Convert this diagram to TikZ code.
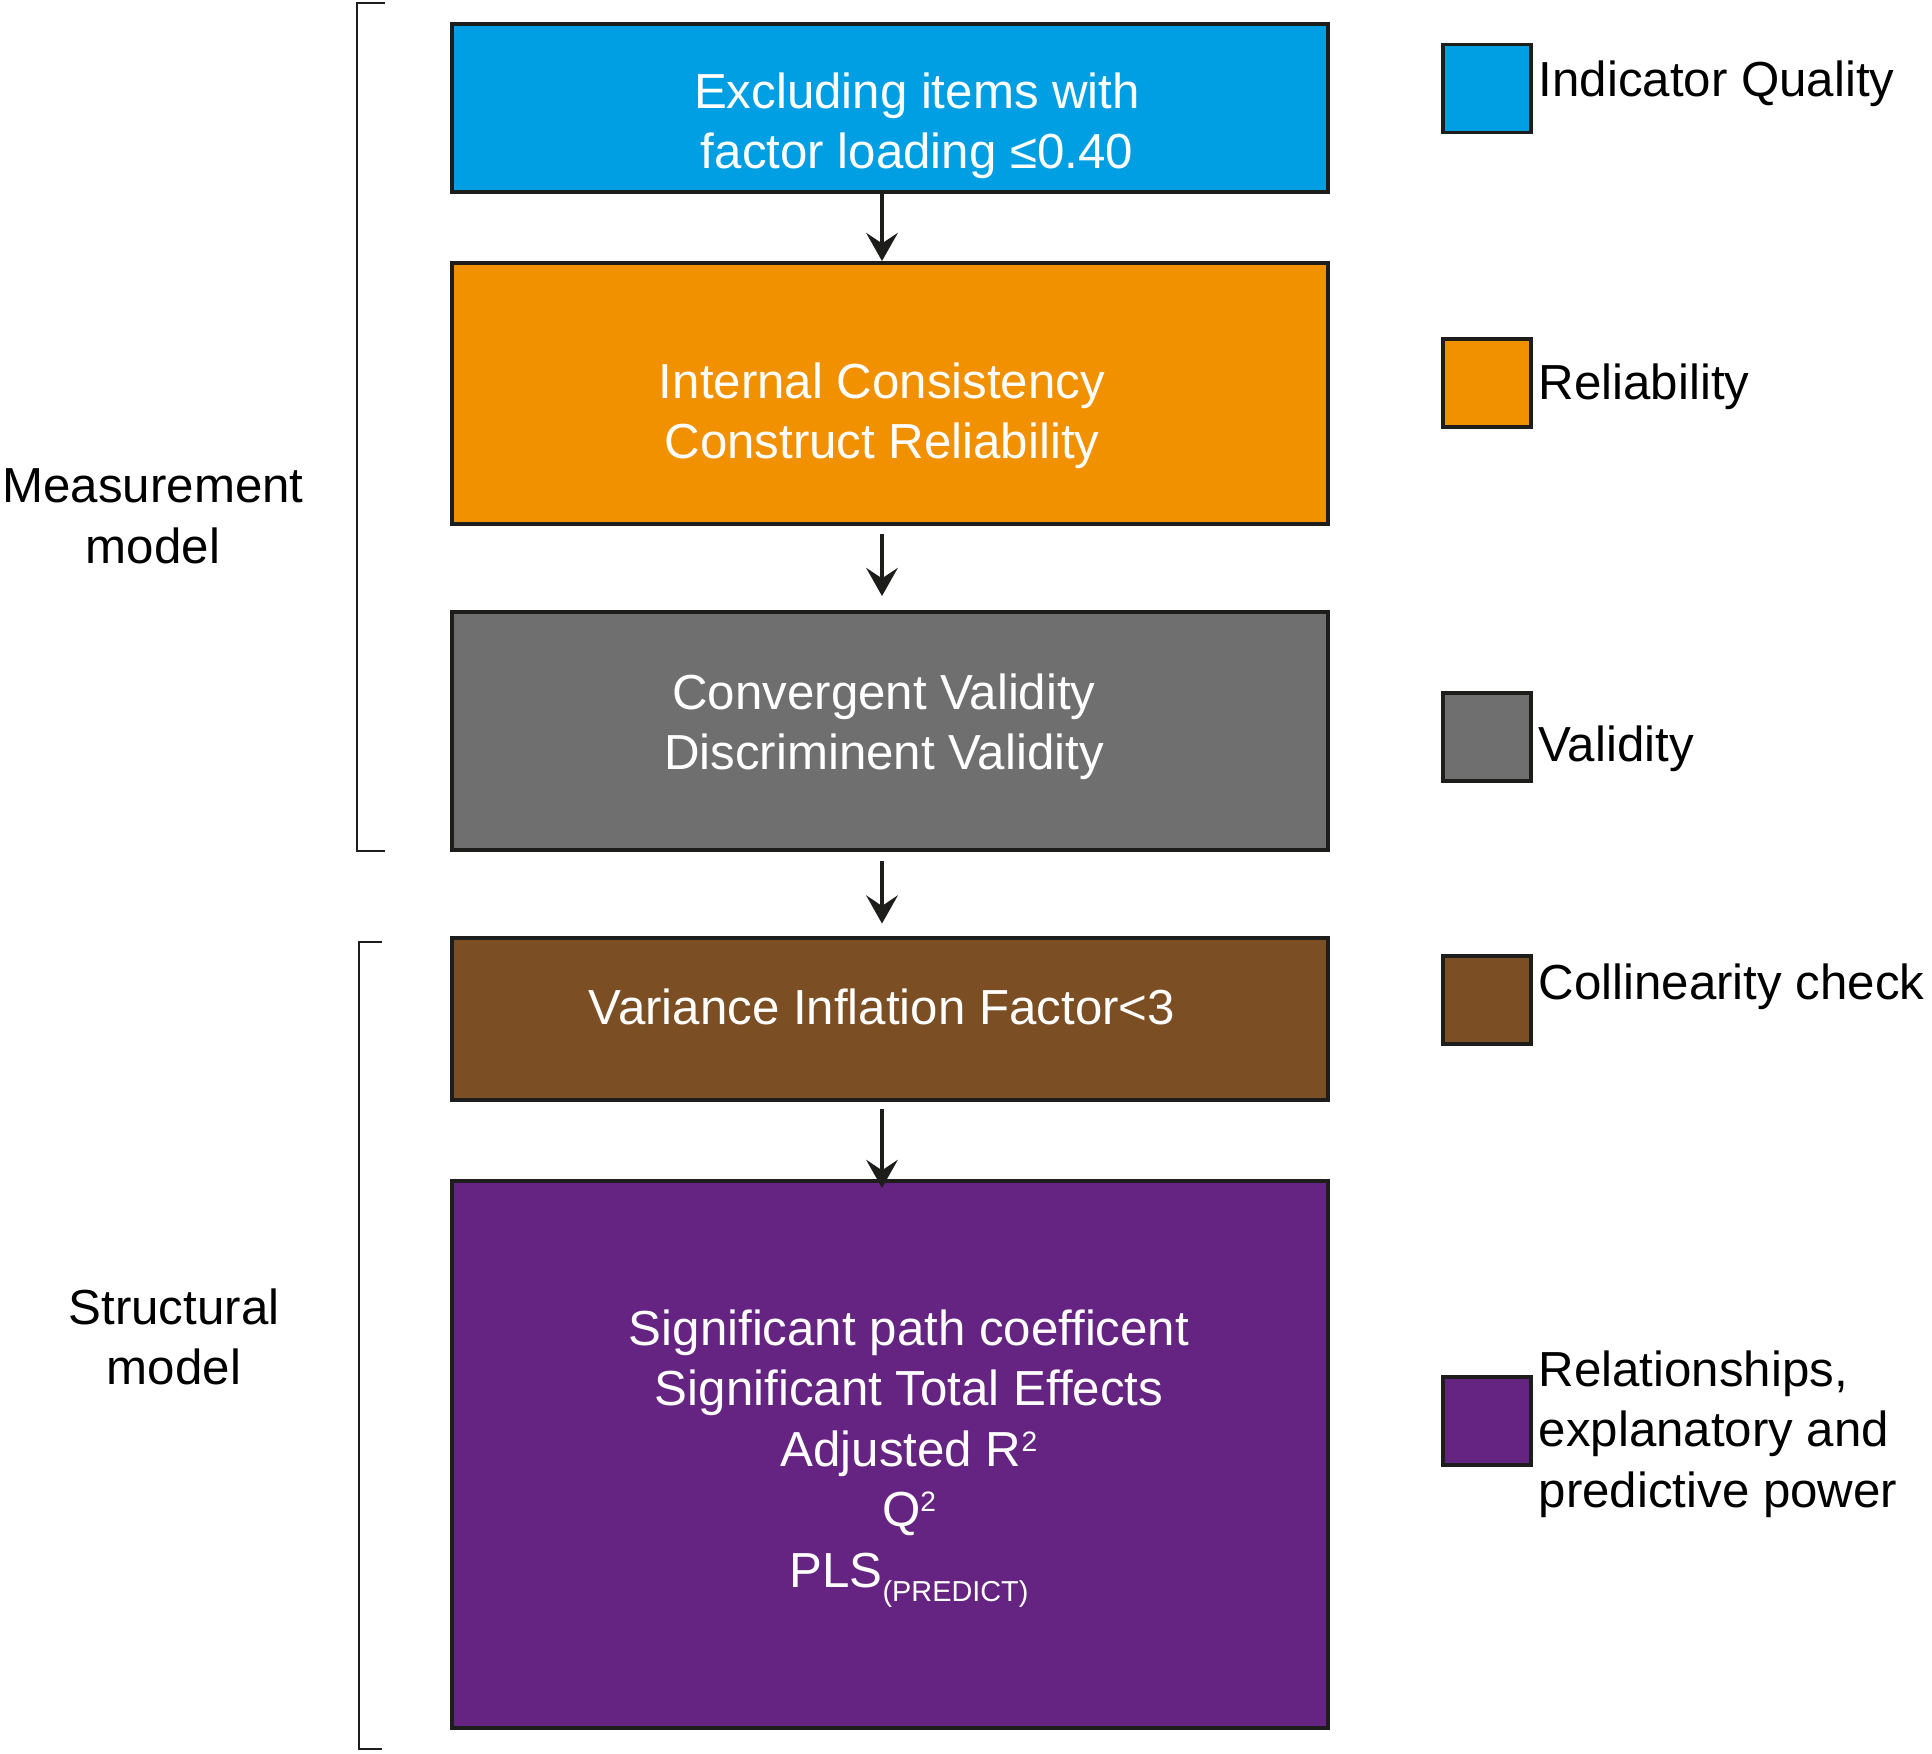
\documentclass[tikz,border=0pt]{standalone}
\usepackage{fontspec}
\setmainfont{Liberation Sans}
\usetikzlibrary{arrows.meta}

\definecolor{edge}{HTML}{1D1D1B}
\definecolor{qualblue}{HTML}{009FE3}
\definecolor{reliaorange}{HTML}{F29100}
\definecolor{validgray}{HTML}{706F6F}
\definecolor{collbrown}{HTML}{7C4E24}
\definecolor{relpurple}{HTML}{662482}

\newcommand{\supscr}[1]{\raisebox{4.3pt}{\fontsize{8}{9}\selectfont #1}}
\newcommand{\subscr}[1]{\raisebox{-4pt}{\fontsize{8.2}{9}\selectfont #1}}

\begin{document}
\begin{tikzpicture}[x=0.01cm,y=-0.01cm,
		box/.style={draw=edge,line width=1.1pt,minimum width=8.76cm,inner sep=0pt},
		swatch/.style={draw=edge,line width=1.1pt,minimum width=0.88cm,minimum height=0.88cm,inner sep=0pt},
		boxtext/.style={text=white,align=center,inner sep=0pt,font=\fontsize{14}{17.2}\selectfont},
		legtext/.style={align=left,inner sep=0pt,font=\fontsize{14}{17.2}\selectfont},
		sidetext/.style={align=center,inner sep=0pt,font=\fontsize{14}{17.2}\selectfont},
		flow/.style={draw=edge,line width=0.9pt,-{Stealth[length=8pt,width=9pt,inset=3pt]}},
		bracket/.style={draw=edge,line width=0.8pt}]
	\useasboundingbox (0,0) rectangle (1932,1753);

	\node[box,fill=qualblue,minimum height=1.68cm] (quality) at (890,108) {};
	\node[box,fill=reliaorange,minimum height=2.61cm] (relia) at (890,393.5) {};
	\node[box,fill=validgray,minimum height=2.38cm] (valid) at (890,731) {};
	\node[box,fill=collbrown,minimum height=1.62cm] (collin) at (890,1019) {};
	\node[box,fill=relpurple,minimum height=5.47cm] (relat) at (890,1454.5) {};

	\node[boxtext] (qualitytxt) at (917,125.5) {Excluding items with\\ factor loading ≤0.40};
	\node[boxtext] (reliatxt) at (882,416) {Internal Consistency\\Construct Reliability};
	\node[boxtext] (validtxt) at (884,727) {Convergent Validity\\Discriminent Validity};
	\node[boxtext,anchor=base] (collintxt) at (882,1024) {Variance Inflation Factor<3};
	\node[boxtext] (relattxt) at (909,1458.5) {Significant path coefficent\\Significant Total Effects\\Adjusted R\supscr{2}\\Q\supscr{2}\\PLS\subscr{(PREDICT)}};

	\draw[flow] ([xshift=-0.08cm]quality.south) -- ([xshift=-0.08cm]relia.north);
	\draw[flow,shorten <=0.08cm,shorten >=0.14cm] ([xshift=-0.08cm]relia.south) -- ([xshift=-0.08cm]valid.north);
	\draw[flow,shorten <=0.09cm,shorten >=0.125cm] ([xshift=-0.08cm]valid.south) -- ([xshift=-0.08cm]collin.north);
	\draw[flow,shorten <=0.07cm,shorten >=-0.09cm] ([xshift=-0.08cm]collin.south) -- ([xshift=-0.08cm]relat.north);

	\node[swatch,fill=qualblue] (keyquality) at (1487,88.5) {};
	\node[swatch,fill=reliaorange] (keyrelia) at (1487,383) {};
	\node[swatch,fill=validgray] (keyvalid) at (1487,737) {};
	\node[swatch,fill=collbrown] (keycollin) at (1487,1000) {};
	\node[swatch,fill=relpurple] (keyrelat) at (1487,1421) {};

	\node[legtext,anchor=base west] (lblquality) at (1538,96) {Indicator Quality};
	\node[legtext,anchor=base west] (lblrelia) at (1538,399) {Reliability};
	\node[legtext,anchor=base west] (lblvalid) at (1538,761) {Validity};
	\node[legtext,anchor=base west] (lblcollin) at (1538,999) {Collinearity check};
	\node[legtext,anchor=west] (lblrelat) at (1538,1434) {Relationships,\\explanatory and\\predictive power};

	\draw[bracket] (385,3) -| (357,851) -- (385,851);
	\draw[bracket] (381.5,942) -| (359,1749) -- (381.5,1749);

	\node[sidetext] (measure) at (153,516.5) {Measurement\\model};
	\node[sidetext] (struct) at (174,1337) {Structural\\model};
\end{tikzpicture}
\end{document}
